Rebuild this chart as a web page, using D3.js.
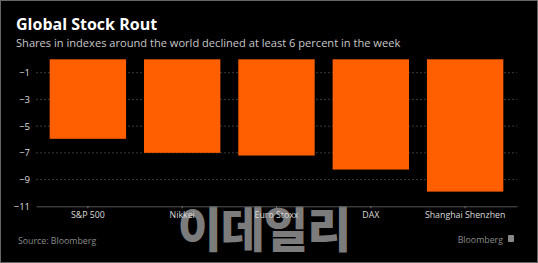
<!DOCTYPE html>
<html>
<head>
<meta charset="utf-8">
<script src="https://cdn.jsdelivr.net/npm/d3@7"></script>
<style>
  body { margin: 0; background: #000; }
  svg { display: block; }
</style>
</head>
<body>
<div id="chart"></div>
<script>
const indexNames = ["S&P 500", "Nikkei", "Euro Stoxx", "DAX", "Shanghai Shenzhen"];
const weeklyChange = [-5.95, -7.0, -7.2, -8.25, -9.9];
const yTicks = [-1, -3, -5, -7, -9, -11];

const width = 538, height = 263;
const font = "'Open Sans', sans-serif";

const svg = d3.select("#chart")
    .append("svg")
    .attr("width", width)
    .attr("height", height);

svg.append("rect")
    .attr("x", 0.5).attr("y", 0.5)
    .attr("width", width - 1).attr("height", height - 1)
    .attr("fill", "#000")
    .attr("stroke", "#666");

svg.append("text")
    .attr("x", 16).attr("y", 30)
    .attr("font-family", font)
    .attr("font-weight", "bold")
    .attr("font-size", 16)
    .attr("fill", "#fff")
    .text("Global Stock Rout");

svg.append("text")
    .attr("x", 16).attr("y", 47)
    .attr("font-family", font)
    .attr("font-size", 11.1)
    .attr("fill", "#c8c8c8")
    .text("Shares in indexes around the world declined at least 6 percent in the week");

const x = d3.scaleBand()
    .domain(indexNames)
    .range([36, 517])
    .paddingInner(0.19)
    .paddingOuter(0.145);

const y = d3.scaleLinear()
    .domain([0, -11])
    .range([59.3, 206.3]);

// dashed gridlines
svg.append("g")
    .selectAll("line")
    .data(yTicks.slice(0, -1))
    .enter()
    .append("line")
    .attr("x1", 36).attr("x2", 517)
    .attr("y1", d => y(d)).attr("y2", d => y(d))
    .attr("stroke", "#3a3a3a")
    .attr("stroke-dasharray", "2,2");

const yAxis = svg.append("g")
    .attr("transform", "translate(36,0)")
    .call(d3.axisLeft(y).tickValues(yTicks).tickSize(0).tickPadding(6));
yAxis.select(".domain").remove();
yAxis.selectAll("text")
    .attr("font-family", font)
    .attr("font-size", 9.5)
    .attr("fill", "#ddd");

svg.append("g")
    .selectAll("rect")
    .data(indexNames)
    .enter()
    .append("rect")
    .attr("x", d => x(d))
    .attr("width", x.bandwidth())
    .attr("y", y(0))
    .attr("height", (d, i) => y(weeklyChange[i]) - y(0))
    .attr("fill", "#ff5f00");

// watermark, drawn under the category labels
svg.append("text")
    .attr("x", 264).attr("y", 247)
    .attr("text-anchor", "middle")
    .attr("font-family", "'Noto Sans CJK KR'")
    .attr("font-weight", "900")
    .attr("font-size", 48)
    .attr("fill", "#7c7c7c")
    .attr("letter-spacing", -1)
    .text("이데일리");

const xAxis = svg.append("g")
    .attr("transform", `translate(0,${y(-11)})`)
    .call(d3.axisBottom(x).tickSize(2).tickSizeOuter(0).tickPadding(3));
xAxis.select(".domain").attr("stroke", "#555");
xAxis.selectAll(".tick line").attr("stroke", "#777");
xAxis.selectAll("text")
    .attr("font-family", font)
    .attr("font-size", 8.8)
    .attr("fill", "#ddd");

svg.append("text")
    .attr("x", 18).attr("y", 244)
    .attr("font-family", font)
    .attr("font-size", 8.8)
    .attr("fill", "#8a8a8a")
    .text("Source: Bloomberg");

svg.append("text")
    .attr("x", 503).attr("y", 243)
    .attr("text-anchor", "end")
    .attr("font-family", font)
    .attr("font-size", 8.8)
    .attr("fill", "#8a8a8a")
    .text("Bloomberg");

svg.append("rect")
    .attr("x", 508).attr("y", 235)
    .attr("width", 6).attr("height", 7)
    .attr("rx", 1)
    .attr("fill", "#888");
</script>
</body>
</html>
